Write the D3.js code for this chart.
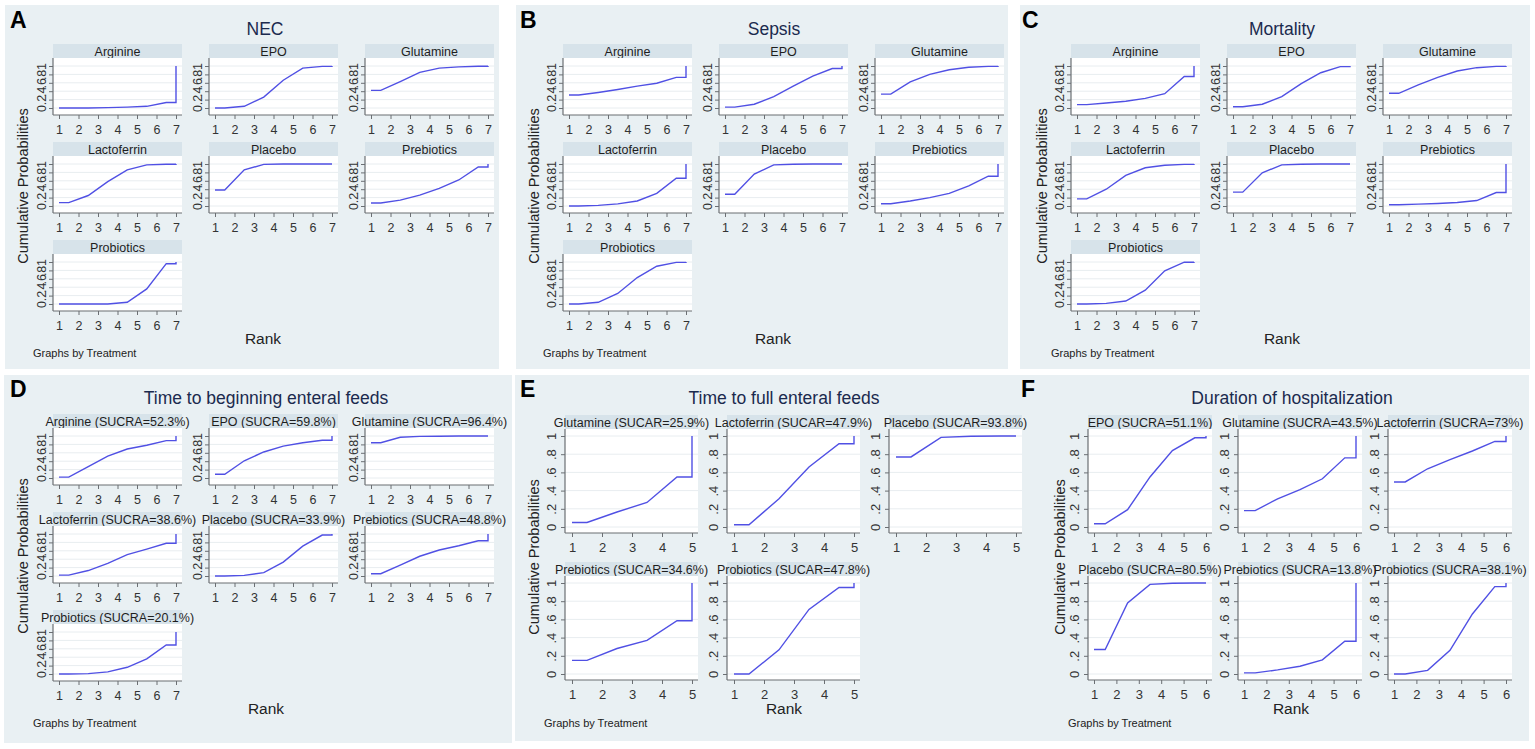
<!DOCTYPE html>
<html>
<head>
<meta charset="utf-8">
<script src="https://d3js.org/d3.v7.min.js"></script>
<title>Cumulative ranking plots</title>
<style>
  body { margin: 0; background: #fff; }
  text { font-family: "Liberation Sans", Arial, sans-serif; }
</style>
</head>
<body>
<div id="chart"></div>
<script>
// treatments
const treat7 = ["Arginine", "EPO", "Glutamine", "Lactoferrin", "Placebo", "Prebiotics", "Probiotics"];
const beginLabels = ["Arginine (SUCRA=52.3%)", "EPO (SUCRA=59.8%)", "Glutamine (SUCRA=96.4%)",
  "Lactoferrin (SUCRA=38.6%)", "Placebo (SUCRA=33.9%)", "Prebiotics (SUCRA=48.8%)", "Probiotics (SUCRA=20.1%)"];
const fullLabels = ["Glutamine (SUCAR=25.9%)", "Lactoferrin (SUCAR=47.9%)", "Placebo (SUCAR=93.8%)",
  "Prebiotics (SUCAR=34.6%)", "Probiotics (SUCAR=47.8%)"];
const hospLabels = ["EPO (SUCRA=51.1%)", "Glutamine (SUCRA=43.5%)", "Lactoferrin (SUCRA=73%)",
  "Placebo (SUCRA=80.5%)", "Prebiotics (SUCRA=13.8%)", "Probiotics (SUCRA=38.1%)"];

// cumulative probability by rank (rank 1 .. n)
const necCum = [
  [0.0, 0.0, 0.01, 0.02, 0.04, 0.13, 1],
  [0.0, 0.04, 0.26, 0.66, 0.95, 0.99, 1],
  [0.42, 0.63, 0.85, 0.95, 0.98, 0.995, 1],
  [0.08, 0.25, 0.58, 0.86, 0.98, 0.995, 1],
  [0.38, 0.86, 0.99, 1, 1, 1, 1],
  [0.07, 0.14, 0.26, 0.42, 0.62, 0.93, 1],
  [0, 0, 0, 0.04, 0.36, 0.96, 1]
];
const sepsisCum = [
  [0.31, 0.37, 0.44, 0.52, 0.59, 0.73, 1],
  [0.02, 0.09, 0.27, 0.52, 0.76, 0.94, 1],
  [0.33, 0.62, 0.80, 0.91, 0.97, 0.99, 1],
  [0, 0.015, 0.05, 0.12, 0.30, 0.66, 1],
  [0.28, 0.76, 0.98, 0.995, 1, 1, 1],
  [0.055, 0.12, 0.2, 0.30, 0.48, 0.71, 1],
  [0, 0.04, 0.25, 0.63, 0.9, 0.99, 1]
];
const mortCum = [
  [0.08, 0.12, 0.16, 0.23, 0.34, 0.75, 1],
  [0.03, 0.09, 0.27, 0.58, 0.84, 0.985, 1],
  [0.35, 0.55, 0.73, 0.88, 0.96, 0.99, 1],
  [0.17, 0.40, 0.73, 0.91, 0.97, 0.99, 1],
  [0.33, 0.79, 0.98, 0.995, 1, 1, 1],
  [0.03, 0.045, 0.06, 0.085, 0.13, 0.32, 1],
  [0, 0.015, 0.07, 0.33, 0.79, 0.995, 1]
];
const beginCum = [
  [0.02, 0.27, 0.52, 0.69, 0.78, 0.89, 1],
  [0.09, 0.41, 0.62, 0.76, 0.84, 0.9, 1],
  [0.84, 0.97, 0.99, 0.995, 1, 1, 1],
  [0.02, 0.13, 0.30, 0.51, 0.64, 0.78, 1],
  [0, 0.015, 0.08, 0.33, 0.71, 0.975, 1],
  [0.055, 0.26, 0.47, 0.62, 0.72, 0.84, 1],
  [0, 0.01, 0.05, 0.16, 0.36, 0.69, 1]
];
const fullCum = [
  [0.05, 0.165, 0.27, 0.55, 1],
  [0.025, 0.31, 0.66, 0.915, 1],
  [0.77, 0.985, 0.998, 1, 1],
  [0.15, 0.28, 0.37, 0.585, 1],
  [0, 0.265, 0.71, 0.95, 1]
];
const hospCum = [
  [0.035, 0.19, 0.55, 0.84, 0.98, 1],
  [0.18, 0.31, 0.41, 0.53, 0.76, 1],
  [0.495, 0.64, 0.74, 0.835, 0.94, 1],
  [0.27, 0.78, 0.985, 0.998, 1, 1],
  [0.012, 0.045, 0.085, 0.155, 0.36, 1],
  [0, 0.04, 0.26, 0.66, 0.96, 1]
];
const yTicks = [0, 0.2, 0.4, 0.6, 0.8, 1];
const yTickText = ["0", ".2", ".4", ".6", ".8", "1"];

// layout of the six panels
const small = { plotW: 129, plotH: 57, hdrH: 14, x1: 6, xn: 123, y0: 7, y1: 8, lab: 7, hdrFont: 12.5, tickFont: 12.5 };
const big = { plotW: 133, plotH: 104, hdrH: 14, x1: 7, xn: 127, y0: 6, y1: 7, lab: 9, hdrFont: 12.5, tickFont: 13 };
const bigF = Object.assign({}, big, { plotW: 124, x1: 6, xn: 118 });

const panels = [
  { letter: "A", title: "NEC", labels: treat7, cum: necCum, box: [5, 5, 494, 364], g: small,
    cols: [53, 209, 365], rows: [44, 142, 240], lx: 10, ly: 28, tx: 265, ty: 35, yl: [23, 186], rk: [263, 344], gb: [33, 357] },
  { letter: "B", title: "Sepsis", labels: treat7, cum: sepsisCum, box: [516, 5, 492, 364], g: small,
    cols: [563, 719, 875], rows: [44, 142, 240], lx: 520, ly: 28, tx: 774, ty: 35, yl: [534, 186], rk: [773, 344], gb: [543, 357] },
  { letter: "C", title: "Mortality", labels: treat7, cum: mortCum, box: [1020, 5, 510, 364], g: small,
    cols: [1071, 1227, 1383], rows: [44, 142, 240], lx: 1022, ly: 28, tx: 1282, ty: 35, yl: [1042, 186], rk: [1282, 344], gb: [1051, 357] },
  { letter: "D", title: "Time to beginning enteral feeds", labels: beginLabels, cum: beginCum, box: [4, 375, 508, 368], g: small,
    cols: [53, 209, 365], rows: [414, 512, 610], lx: 10, ly: 397, tx: 266, ty: 404, yl: [23, 556], rk: [266, 714], gb: [33, 727] },
  { letter: "E", title: "Time to full enteral feeds", labels: fullLabels, cum: fullCum, box: [515, 375, 505, 366], g: big,
    cols: [565, 727, 889], rows: [415, 562], lx: 520, ly: 397, tx: 784, ty: 404, yl: [534, 557], rk: [784, 714], gb: [544, 727] },
  { letter: "F", title: "Duration of hospitalization", labels: hospLabels, cum: hospCum, box: [1020, 375, 509, 366], g: bigF,
    cols: [1088, 1238, 1388], rows: [415, 562], lx: 1021, ly: 397, tx: 1292, ty: 404, yl: [1060, 557], rk: [1291, 714], gb: [1068, 727] }
];

const W = 1535, H = 749;
const svg = d3.select("#chart").append("svg").attr("width", W).attr("height", H);
svg.append("rect").attr("width", W).attr("height", H).attr("fill", "#fff");

// backgrounds first so panel E can spill over into F
panels.forEach(p => {
  svg.append("rect").attr("x", p.box[0]).attr("y", p.box[1]).attr("width", p.box[2]).attr("height", p.box[3])
    .attr("fill", "#e9f0f3");
});

const lineColor = "#5050e4";

panels.forEach(p => {
  const g = p.g;
  const pg = svg.append("g");

  pg.append("text").attr("x", p.lx).attr("y", p.ly).attr("font-size", 23).attr("font-weight", "bold")
    .attr("fill", "#000").text(p.letter);
  pg.append("text").attr("x", p.tx).attr("y", p.ty).attr("text-anchor", "middle").attr("font-size", 17.5)
    .attr("fill", "#1b2a4e").text(p.title);
  pg.append("text").attr("transform", "translate(" + p.yl[0] + "," + p.yl[1] + ") rotate(-90)")
    .attr("text-anchor", "middle").attr("dy", "0.35em").attr("font-size", 14.5).attr("fill", "#222")
    .text("Cumulative Probabilities");
  pg.append("text").attr("x", p.rk[0]).attr("y", p.rk[1]).attr("text-anchor", "middle").attr("font-size", 15.5)
    .attr("fill", "#222").text("Rank");
  pg.append("text").attr("x", p.gb[0]).attr("y", p.gb[1]).attr("font-size", 11).attr("fill", "#222")
    .text("Graphs by Treatment");

  p.cum.forEach((vals, i) => {
    const n = vals.length;
    const ax = p.cols[i % 3];
    const hdrTop = p.rows[Math.floor(i / 3)];
    const top = hdrTop + g.hdrH, bottom = top + g.plotH;

    const x = d3.scaleLinear().domain([1, n]).range([ax + g.x1, ax + g.xn]);
    const y = d3.scaleLinear().domain([0, 1]).range([bottom - g.y0, top + g.y1]);

    const sg = pg.append("g");
    // strip header
    sg.append("rect").attr("x", ax).attr("y", hdrTop).attr("width", g.plotW).attr("height", g.hdrH)
      .attr("fill", "#d7e3ea");
    sg.append("text").attr("x", ax + g.plotW / 2).attr("y", hdrTop + g.hdrH / 2).attr("dy", "0.36em")
      .attr("text-anchor", "middle").attr("font-size", g.hdrFont).attr("fill", "#1e1e1e").text(p.labels[i]);
    // plot region
    sg.append("rect").attr("x", ax).attr("y", top).attr("width", g.plotW).attr("height", g.plotH).attr("fill", "#fff");
    sg.selectAll(".grid").data(yTicks).enter().append("line")
      .attr("x1", ax).attr("x2", ax + g.plotW).attr("y1", d => y(d)).attr("y2", d => y(d))
      .attr("stroke", "#e8edf0").attr("stroke-width", 1);

    // axes
    const yAxis = sg.append("g").attr("transform", "translate(" + ax + ",0)")
      .call(d3.axisLeft(y).tickValues(yTicks).tickFormat((d, k) => yTickText[k]).tickSize(4).tickSizeOuter(0));
    yAxis.select(".domain").remove();
    yAxis.selectAll("line").attr("stroke", "#6b6f73");
    yAxis.selectAll("text").attr("x", 0).attr("y", 0).attr("dy", null).attr("text-anchor", "middle")
      .attr("transform", "translate(" + (-g.lab) + ",0) rotate(-90)")
      .attr("font-size", g.tickFont).attr("fill", "#333").attr("font-family", "Liberation Sans, Arial, sans-serif");

    const xAxis = sg.append("g").attr("transform", "translate(0," + bottom + ")")
      .call(d3.axisBottom(x).tickValues(d3.range(1, n + 1)).tickFormat(d3.format("d")).tickSize(4).tickSizeOuter(0));
    xAxis.select(".domain").remove();
    xAxis.selectAll("line").attr("stroke", "#6b6f73");
    xAxis.selectAll("text").attr("font-size", g.tickFont).attr("fill", "#333").attr("dy", "0.95em")
      .attr("font-family", "Liberation Sans, Arial, sans-serif");

    sg.append("line").attr("x1", ax).attr("x2", ax).attr("y1", top).attr("y2", bottom)
      .attr("stroke", "#6b6f73").attr("stroke-width", 1.2);
    sg.append("line").attr("x1", ax).attr("x2", ax + g.plotW).attr("y1", bottom).attr("y2", bottom)
      .attr("stroke", "#6b6f73").attr("stroke-width", 1.2);

    // step-connected cumulative curve
    const pts = [[1, vals[0]], [1.5, vals[0]]];
    for (let k = 1; k <= n - 2; k++) pts.push([k + 1.5, vals[k]]);
    pts.push([n, vals[n - 2]], [n, vals[n - 1]]);

    sg.append("path").datum(pts)
      .attr("d", d3.line().x(d => x(d[0])).y(d => y(d[1])))
      .attr("fill", "none").attr("stroke", lineColor).attr("stroke-width", 1.4);
  });
});
</script>
</body>
</html>
